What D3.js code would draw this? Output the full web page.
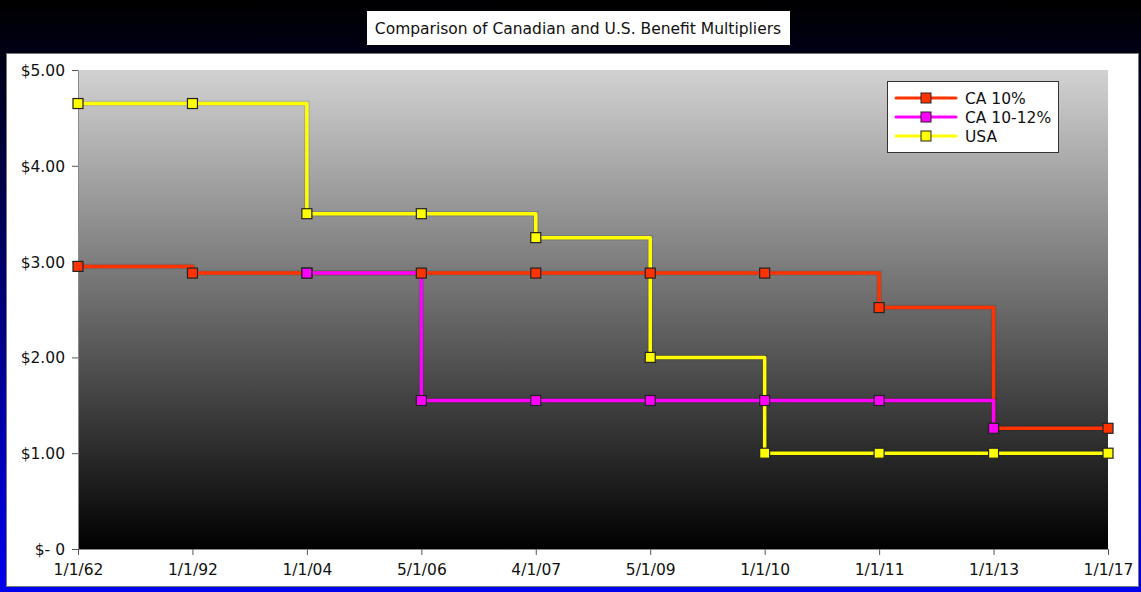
<!DOCTYPE html>
<html>
<head>
<meta charset="utf-8">
<script src="https://cdn.jsdelivr.net/npm/d3@7"></script>
<style>
  html, body { margin: 0; padding: 0; background: #fff; }
  svg { display: block; font-family: "DejaVu Sans", sans-serif; }
</style>
</head>
<body>
<svg id="chart" width="1141" height="592"></svg>
<script>
const categories = ["1/1/62", "1/1/92", "1/1/04", "5/1/06", "4/1/07", "5/1/09", "1/1/10", "1/1/11", "1/1/13", "1/1/17"];
const ca10 =    [2.95, 2.88, 2.88, 2.88, 2.88, 2.88, 2.88, 2.52, 1.26, 1.26];
const ca1012 =  [null, null, 2.88, 1.55, 1.55, 1.55, 1.55, 1.55, 1.26, null];
const usa =     [4.65, 4.65, 3.50, 3.50, 3.25, 2.00, 1.00, 1.00, 1.00, 1.00];
const yTicks = [0, 1, 2, 3, 4, 5];
const yTickLabels = ["$- 0", "$1.00", "$2.00", "$3.00", "$4.00", "$5.00"];
const seriesNames = ["CA 10%", "CA 10-12%", "USA"];
const seriesColors = ["#ff3300", "#ff00ff", "#ffff00"];
const title = "Comparison of Canadian and U.S. Benefit Multipliers";

const series = [ca10, ca1012, usa].map((vals, i) => ({
  name: seriesNames[i], color: seriesColors[i],
  points: vals.map((v, j) => ({ cat: categories[j], v }))
}));

const FS = "15.5px";
const svg = d3.select("#chart");
const W = 1141, H = 592;
const defs = svg.append("defs");

const bg = defs.append("linearGradient").attr("id", "bg").attr("x1", 0).attr("y1", 0).attr("x2", 0).attr("y2", 1);
bg.append("stop").attr("offset", "0%").attr("stop-color", "#000000");
bg.append("stop").attr("offset", "100%").attr("stop-color", "#0000ee");

const pg = defs.append("linearGradient").attr("id", "plotbg").attr("x1", 0).attr("y1", 0).attr("x2", 0).attr("y2", 1);
pg.append("stop").attr("offset", "0%").attr("stop-color", "#d2d2d2");
pg.append("stop").attr("offset", "100%").attr("stop-color", "#000000");

svg.append("rect").attr("width", W).attr("height", H).attr("fill", "url(#bg)");
svg.append("rect").attr("x", 6.5).attr("y", 53.5).attr("width", 1132).attr("height", 533)
  .attr("fill", "#ffffff").attr("stroke", "#777").attr("stroke-width", 1);

const m = { left: 78, right: 1108, top: 70, bottom: 549 };
const x = d3.scalePoint().domain(categories).range([m.left, m.right]);
const y = d3.scaleLinear().domain([0, 5]).range([m.bottom, m.top]);

svg.append("rect").attr("x", m.left).attr("y", m.top)
  .attr("width", m.right - m.left).attr("height", m.bottom - m.top)
  .attr("fill", "url(#plotbg)");

// axes
const yAxis = svg.append("g").attr("transform", `translate(${m.left},0)`)
  .call(d3.axisLeft(y).tickValues(yTicks).tickSize(6).tickSizeOuter(0)
    .tickFormat((d, i) => yTickLabels[i]));
const xAxis = svg.append("g").attr("transform", `translate(0,${m.bottom})`)
  .call(d3.axisBottom(x).tickSize(6).tickSizeOuter(0));
[yAxis, xAxis].forEach(g => {
  g.attr("font-size", null).attr("font-family", null);
  g.selectAll("path.domain").attr("stroke", "#8a8a8a");
  g.selectAll(".tick line").attr("stroke", "#555");
  g.selectAll("text").attr("fill", "#111").style("font-size", FS).style("font-family", "DejaVu Sans, sans-serif");
});
yAxis.selectAll("text").attr("x", -13).attr("dy", "0.35em");
xAxis.selectAll("text").attr("y", 15);

// lines
const line = d3.line()
  .defined(d => d.v !== null)
  .x(d => x(d.cat)).y(d => y(d.v))
  .curve(d3.curveStepAfter);

const lineOrder = [0, 2, 1];
lineOrder.forEach(i => {
  const s = series[i];
  svg.append("path").datum(s.points)
    .attr("fill", "none").attr("stroke", "rgba(0,0,0,0.12)").attr("stroke-width", 5.5)
    .attr("d", line);
  svg.append("path").datum(s.points)
    .attr("fill", "none").attr("stroke", s.color).attr("stroke-width", 3.5)
    .attr("stroke-linejoin", "round")
    .attr("d", line);
});

// markers
[0, 1, 2].forEach(i => {
  const s = series[i];
  svg.append("g").selectAll("rect")
    .data(s.points.filter(d => d.v !== null))
    .join("rect")
    .attr("x", d => x(d.cat) - 5).attr("y", d => y(d.v) - 5)
    .attr("width", 10).attr("height", 10)
    .attr("fill", s.color).attr("stroke", "#222").attr("stroke-width", 1.2);
});

// title
svg.append("rect").attr("x", 367).attr("y", 11).attr("width", 423).attr("height", 34).attr("fill", "#fff");
svg.append("text").attr("x", 578).attr("y", 33.5).attr("text-anchor", "middle")
  .style("font-size", FS).attr("fill", "#111").text(title);

// legend
const lg = svg.append("g");
lg.append("rect").attr("x", 887.5).attr("y", 81.5).attr("width", 171).attr("height", 71)
  .attr("fill", "#fff").attr("stroke", "#333").attr("stroke-width", 1);
series.forEach((s, i) => {
  const cy = 98 + i * 19;
  lg.append("line").attr("x1", 896).attr("x2", 956).attr("y1", cy).attr("y2", cy)
    .attr("stroke", s.color).attr("stroke-width", 3).attr("stroke-linecap", "round");
  lg.append("rect").attr("x", 921).attr("y", cy - 5).attr("width", 10).attr("height", 10)
    .attr("fill", s.color).attr("stroke", "#222").attr("stroke-width", 1);
  lg.append("text").attr("x", 965).attr("y", cy + 5.5)
    .style("font-size", FS).attr("fill", "#111").text(s.name);
});
</script>
</body>
</html>
